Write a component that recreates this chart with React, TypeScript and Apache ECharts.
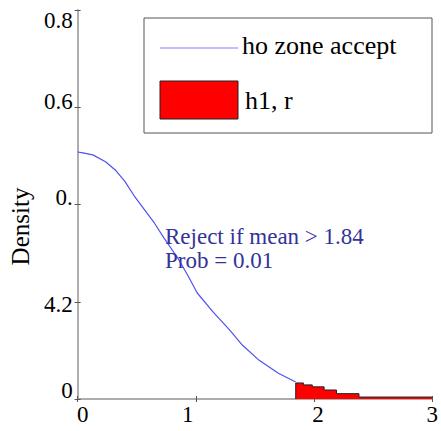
import React, { useEffect, useRef } from "react";
import * as echarts from "echarts";

const yTickValues = [0, 0.2, 0.4, 0.6, 0.8];
const yTickLabels = ["0", "4.2", "0.", "0.6", "0.8"];
const xTickValues = [0, 1, 2, 3];
const xTickLabels = ["0", "1", "2", "3"];

// H0 density curve (accept region)
const curveX = [0, 0.045, 0.128, 0.236, 0.318, 0.401, 0.483, 0.566, 0.649, 0.731, 0.847, 0.93, 1.012, 1.145, 1.285, 1.393, 1.533, 1.698, 1.845];
const curveY = [0.508, 0.506, 0.502, 0.488, 0.471, 0.447, 0.416, 0.389, 0.362, 0.331, 0.29, 0.255, 0.218, 0.179, 0.142, 0.111, 0.08, 0.053, 0.035];

// rejection region (steps)
const rejX = [1.845, 1.845, 1.91, 1.985, 2.085, 2.19, 2.38, 3.0];
const rejY = [0, 0.033, 0.029, 0.025, 0.0185, 0.011, 0.004, 0.004];

const legendLabels = ["ho zone accept", "h1, r"];
const noteLines = ["Reject if mean > 1.84", "Prob = 0.01"];

const FONT = "Times New Roman, Liberation Serif, Tinos, DejaVu Serif, serif";

// per-label vertical offsets (reference label placement)
const yLabelShift: Record<string, number> = { "0": -9, "4.2": 3, "0.": -7, "0.6": -6, "0.8": 10 };
const xLabelShift: Record<string, number> = { "0": 5, "1": -8, "2": 4, "3": 0 };

export default function App() {
  const ref = useRef<HTMLDivElement>(null);
  useEffect(() => {
    if (!ref.current) return;
    const chart = echarts.init(ref.current, undefined, { renderer: "svg" });
    const yRich: any = {};
    yTickLabels.forEach((l, i) => {
      const s = yLabelShift[l];
      yRich["y" + i] = {
        fontFamily: FONT,
        fontSize: 23,
        color: "#000",
        padding: s > 0 ? [2 * s, 0, 0, 0] : [0, 0, -2 * s, 0],
      };
    });
    const xRich: any = {};
    xTickLabels.forEach((l, i) => {
      const s = xLabelShift[l];
      xRich["x" + i] = {
        fontFamily: FONT,
        fontSize: 23,
        color: "#000",
        padding: s > 0 ? [0, 0, 0, 2 * s] : [0, -2 * s, 0, 0],
      };
    });
    const axisLine = { show: true, lineStyle: { color: "#8a8a8a", width: 1.5 } };
    const tick = { show: true, inside: true, length: 3, lineStyle: { color: "#555" } };
    chart.setOption({
      animation: false,
      textStyle: { fontFamily: FONT },
      grid: { left: 73.5, top: 10, right: 3.5, bottom: 32 },
      xAxis: [
        {
          type: "value",
          min: 0,
          max: 3,
          interval: 1,
          axisLine,
          axisTick: tick,
          splitLine: { show: false },
          axisLabel: {
            margin: 4,
            fontFamily: FONT,
            fontSize: 23,
            rich: xRich,
            formatter: (v: number) => {
              const i = xTickValues.indexOf(v);
              return i >= 0 ? `{x${i}|${xTickLabels[i]}}` : "";
            },
          },
        },
        {
          type: "value",
          position: "top",
          min: 0,
          max: 3,
          interval: 1,
          axisLine: { show: true, lineStyle: { color: "#b0b0b0", width: 1.5 } },
          axisTick: tick,
          axisLabel: { show: false },
          splitLine: { show: false },
        },
      ],
      yAxis: [
        {
          type: "value",
          min: 0,
          max: 0.8,
          interval: 0.2,
          axisLine,
          axisTick: tick,
          splitLine: { show: false },
          name: "Density",
          nameLocation: "middle",
          nameGap: 39,
          nameRotate: 90,
          nameTextStyle: { fontFamily: FONT, fontSize: 25, color: "#000", padding: [0, 44, 0, 0] },
          axisLabel: {
            margin: 5,
            fontFamily: FONT,
            fontSize: 23,
            rich: yRich,
            formatter: (v: number) => {
              const i = yTickValues.findIndex((t) => Math.abs(t - v) < 1e-9);
              return i >= 0 ? `{y${i}|${yTickLabels[i]}}` : "";
            },
          },
        },
        {
          type: "value",
          position: "right",
          min: 0,
          max: 0.8,
          interval: 0.2,
          axisLine: { show: true, lineStyle: { color: "#b0b0b0", width: 1.5 } },
          axisTick: tick,
          axisLabel: { show: false },
          splitLine: { show: false },
        },
      ],
      series: [
        {
          type: "line",
          name: legendLabels[0],
          data: curveX.map((x, i) => [x, curveY[i]]),
          showSymbol: false,
          symbol: "none",
          lineStyle: { color: "#5050f5", width: 1.2 },
          z: 3,
        },
        {
          type: "line",
          name: legendLabels[1],
          step: "end",
          data: rejX.map((x, i) => [x, rejY[i]]),
          showSymbol: false,
          symbol: "none",
          lineStyle: { color: "#222", width: 1 },
          areaStyle: { color: "#ff0000", opacity: 1 },
          z: 2,
        },
      ],
      graphic: [
        {
          type: "rect",
          shape: { x: 144, y: 18, width: 288, height: 115 },
          style: { fill: "#fff", stroke: "#555", lineWidth: 1 },
          z: 10,
        },
        {
          type: "line",
          shape: { x1: 160, y1: 48, x2: 238, y2: 48 },
          style: { stroke: "#8080ff", lineWidth: 1.2 },
          z: 11,
        },
        {
          type: "text",
          x: 242,
          y: 45,
          style: { text: legendLabels[0], fontFamily: FONT, fontSize: 26, fill: "#000", verticalAlign: "middle" },
          z: 11,
        },
        {
          type: "rect",
          shape: { x: 160, y: 81, width: 78, height: 38 },
          style: { fill: "#ff0000", stroke: "#222", lineWidth: 1 },
          z: 11,
        },
        {
          type: "text",
          x: 245,
          y: 100,
          style: { text: legendLabels[1], fontFamily: FONT, fontSize: 26, fill: "#000", verticalAlign: "middle" },
          z: 11,
        },
        {
          type: "text",
          x: 165,
          y: 248,
          style: {
            text: noteLines.join("\n"),
            fontFamily: FONT,
            fontSize: 23,
            lineHeight: 24,
            fill: "#333399",
            verticalAlign: "middle",
          },
          z: 11,
        },
      ],
    });
    return () => chart.dispose();
  }, []);
  return <div ref={ref} style={{ width: 441, height: 431, position: "absolute", left: 0, top: 0 }} />;
}
